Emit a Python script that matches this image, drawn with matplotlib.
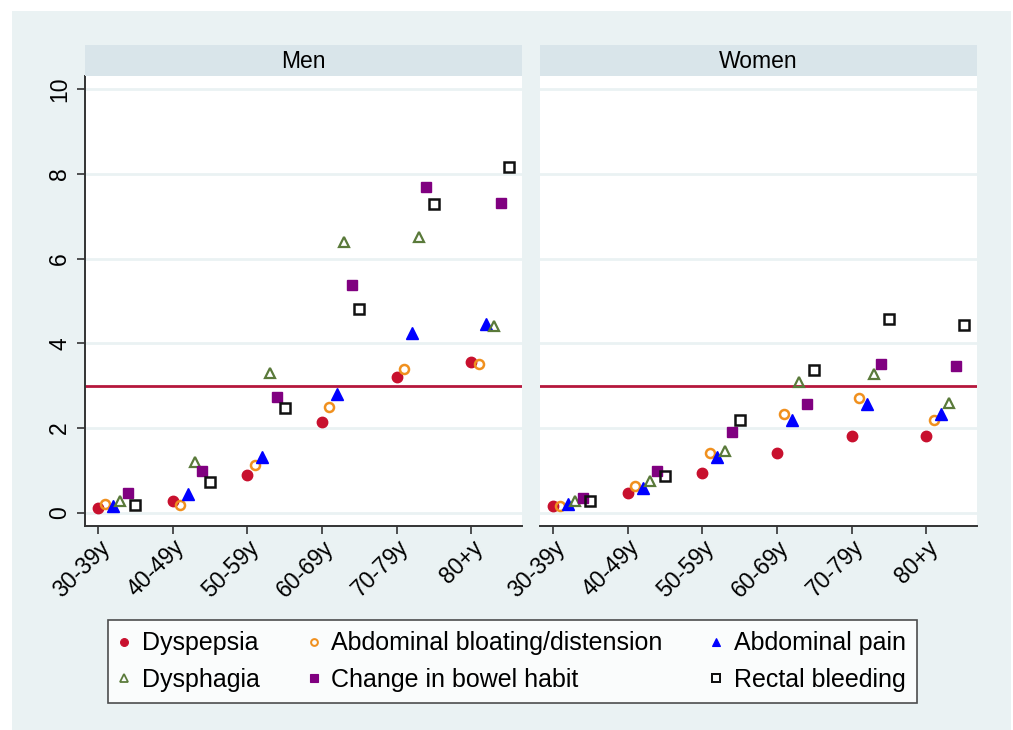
import matplotlib
matplotlib.use("Agg")
import matplotlib.pyplot as plt
from matplotlib.lines import Line2D
from matplotlib.patches import Rectangle
import numpy as np

plt.rcParams['font.family'] = ['Liberation Sans', 'DejaVu Sans']

age_groups = ["30-39y", "40-49y", "50-59y", "60-69y", "70-79y", "80+y"]
panels = ["Men", "Women"]
series_names = ["Dyspepsia", "Abdominal bloating/distension", "Abdominal pain",
                "Dysphagia", "Change in bowel habit", "Rectal bleeding"]

men_dyspepsia = [0.11, 0.27, 0.89, 2.15, 3.20, 3.56]
men_bloating = [0.20, 0.19, 1.13, 2.49, 3.40, 3.52]
men_pain = [0.17, 0.45, 1.33, 2.81, 4.25, 4.46]
men_dysphagia = [0.29, 1.20, 3.30, 6.39, 6.52, 4.40]
men_bowel = [0.46, 0.98, 2.74, 5.38, 7.69, 7.31]
men_rectal = [0.18, 0.72, 2.47, 4.80, 7.28, 8.17]

women_dyspepsia = [0.17, 0.48, 0.95, 1.41, 1.82, 1.82]
women_bloating = [0.17, 0.63, 1.42, 2.33, 2.70, 2.18]
women_pain = [0.21, 0.59, 1.33, 2.20, 2.57, 2.33]
women_dysphagia = [0.29, 0.75, 1.47, 3.10, 3.28, 2.60]
women_bowel = [0.35, 0.98, 1.90, 2.58, 3.51, 3.47]
women_rectal = [0.29, 0.86, 2.20, 3.36, 4.57, 4.44]

threshold = 3
y_ticks = [0, 2, 4, 6, 8, 10]

data = {
    "Men": [men_dyspepsia, men_bloating, men_pain, men_dysphagia, men_bowel, men_rectal],
    "Women": [women_dyspepsia, women_bloating, women_pain, women_dysphagia, women_bowel, women_rectal],
}

styles = [
    dict(marker='o', color='#c8102e', mfc='#c8102e', ms=7.5, mew=1.0),
    dict(marker='o', color='#f0901e', mfc='none', ms=6.5, mew=1.8),
    dict(marker='^', color='#0000ff', mfc='#0000ff', ms=8, mew=1.0),
    dict(marker='^', color='#5a7a3a', mfc='none', ms=7, mew=1.6),
    dict(marker='s', color='#800080', mfc='#800080', ms=7.5, mew=1.0),
    dict(marker='s', color='#111111', mfc='none', ms=7, mew=1.8),
]

W, H = 1013, 730
fig = plt.figure(figsize=(W / 100, H / 100), dpi=100)
fig.patch.set_facecolor('white')
bg = Rectangle((12 / W, 0), (1011 - 12) / W, 1 - 11 / H, transform=fig.transFigure,
               facecolor='#eaf2f3', edgecolor='none', zorder=-10)
fig.patches.append(bg)

bg_col = '#eaf2f3'
strip_col = '#d9e5ea'
spine_col = '#333333'

def px_axes(x0, y0, x1, y1):
    return [x0 / W, 1 - y1 / H, (x1 - x0) / W, (y1 - y0) / H]

panel_px = {"Men": (85, 522), "Women": (540, 977)}
top_px, bot_px = 76, 526
x = np.arange(len(age_groups))
offsets = [0.0, 0.1, 0.2, 0.3, 0.4, 0.5]

for pi, name in enumerate(panels):
    x0, x1 = panel_px[name]
    ax = fig.add_axes(px_axes(x0, top_px, x1, bot_px))
    ax.set_facecolor('white')
    sax = fig.add_axes(px_axes(x0, 45, x1, 76))
    sax.set_facecolor(strip_col)
    sax.set_xticks([]); sax.set_yticks([])
    for s in sax.spines.values():
        s.set_visible(False)
    sax.text(0.5, 0.47, name, ha='center', va='center', fontsize=16.5, transform=sax.transAxes)

    for gy in y_ticks:
        ax.axhline(gy, color=bg_col, lw=2, zorder=0)
    ax.axhline(threshold, color='#b5173c', lw=2, zorder=1)

    for si, vals in enumerate(data[name]):
        st = styles[si]
        ax.plot(x + offsets[si], vals, linestyle='none', marker=st['marker'], color=st['color'],
                markerfacecolor=st['mfc'], markeredgecolor=st['color'], markersize=st['ms'],
                markeredgewidth=st['mew'], zorder=3)

    ax.set_xlim(-0.174, 5.68)
    ax.set_ylim(-0.31, 10.31)
    ax.set_xticks(x)
    ax.set_xticklabels(age_groups, rotation=45, ha='right', va='top', rotation_mode='anchor',
                       fontsize=16.5)
    ax.tick_params(axis='x', length=6, width=1.2, color=spine_col, pad=1)
    for s in ['top', 'right']:
        ax.spines[s].set_visible(False)
    ax.spines['bottom'].set_color(spine_col)
    ax.spines['bottom'].set_linewidth(1.4)
    if pi == 0:
        ax.set_yticks(y_ticks)
        ax.set_yticklabels([str(v) for v in y_ticks], rotation=90, va='center', fontsize=16.5)
        ax.tick_params(axis='y', length=6, width=1.2, color=spine_col, pad=4)
        ax.spines['left'].set_color(spine_col)
        ax.spines['left'].set_linewidth(1.4)
    else:
        ax.set_yticks([])
        ax.spines['left'].set_visible(False)

handles = []
for si in range(6):
    st = styles[si]
    handles.append(Line2D([], [], linestyle='none', marker=st['marker'], color=st['color'],
                          markerfacecolor=st['mfc'], markeredgecolor=st['color'],
                          markersize=st['ms'] * 0.75, markeredgewidth=st['mew'] * 0.8,
                          label=series_names[si]))
order = [0, 3, 1, 4, 2, 5]
leg = fig.legend([handles[i] for i in order], [series_names[i] for i in order], ncol=3,
                 loc='upper left', bbox_to_anchor=(108 / W, 1 - 705 / H, (917 - 108) / W, 85 / H),
                 mode='expand', frameon=True, fancybox=False, fontsize=18,
                 handlelength=0.4, handletextpad=0.5, borderpad=0.45, labelspacing=0.5,
                 borderaxespad=0)
leg.get_frame().set_edgecolor('#222222')
leg.get_frame().set_linewidth(1.2)
leg.get_frame().set_facecolor('white')

fig.savefig('out.png', dpi=100, facecolor=fig.get_facecolor())
